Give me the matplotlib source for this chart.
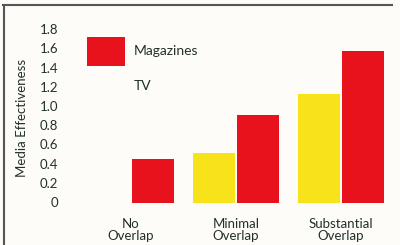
import numpy as np
import matplotlib
matplotlib.use('Agg')
import matplotlib.pyplot as plt
import matplotlib.transforms as mtransforms
from matplotlib.patches import Patch
from matplotlib.lines import Line2D

# Media effectiveness by audience overlap
categories = ['No\nOverlap', 'Minimal\nOverlap', 'Substantial\nOverlap']
tv = [0.0, 0.52, 1.14]
magazines = [0.46, 0.92, 1.58]
yticks = [0, 0.2, 0.4, 0.6, 0.8, 1.0, 1.2, 1.4, 1.6, 1.8]
ytick_labels = ['0', '0.2', '0.4', '0.6', '0.8', '1.0', '1.2', '1.4', '1.6', '1.8']

red = '#e8121c'
yellow = '#f8e21a'
txt = '#23302a'
bg = '#fdfcf8'

plt.rcParams['font.family'] = ['Lato', 'DejaVu Sans']

fig = plt.figure(figsize=(4.0, 2.45), dpi=100, facecolor=bg)
ax = fig.add_axes([0.0, 0.0, 1.0, 1.0])
ax.set_facecolor(bg)

# pixel layout: group centres at x=131,236,341 ; 0 at y=203, 1.8 at y=30
x = np.arange(len(categories))
w = 0.4
ax.bar(x - w / 2 - 0.01, tv, w, color=yellow)
ax.bar(x + w / 2 + 0.01, magazines, w, color=red)

ppx = 105.0   # pixels per category
ppy = 96.0    # pixels per unit
ax.set_xlim(-131 / ppx, (400 - 131) / ppx)
ax.set_ylim(-(245 - 203) / ppy, 203 / ppy)

# y tick labels, no axis line
trans = mtransforms.blended_transform_factory(fig.transFigure, ax.transData)
for v, lab in zip(yticks, ytick_labels):
    ax.text(58 / 400, v, lab, transform=trans, ha='right', va='center',
            fontsize=9.5, color=txt)

for xi, lab in zip(x, categories):
    ax.text(xi, -0.16, lab, ha='center', va='top', fontsize=9.5, color=txt,
            linespacing=1.0)

ax.text(22 / 400, 1 - 118 / 245, 'Media Effectiveness', transform=fig.transFigure,
        rotation=90, ha='center', va='center', fontsize=9.5, color=txt)

handles = [Patch(facecolor=red, edgecolor='none'),
           Patch(facecolor='none', edgecolor='none')]
leg = ax.legend(handles, ['Magazines', 'TV'], loc='upper left',
                bbox_to_anchor=(87 / 400, 1 - 37 / 245), frameon=False,
                borderpad=0, borderaxespad=0,
                fontsize=10, handlelength=2.7, handleheight=2.8,
                labelspacing=0.45, handletextpad=0.65, labelcolor=txt)

ax.axis('off')

# scan border (top and left edges)
fig.add_artist(Line2D([3 / 400, 392 / 400], [1 - 5.5 / 245, 1 - 5.5 / 245],
                      color='#555555', lw=1.5, transform=fig.transFigure))
fig.add_artist(Line2D([3.5 / 400, 3.5 / 400], [0, 1 - 5.5 / 245],
                      color='#555555', lw=1.5, transform=fig.transFigure))

fig.savefig('out.png', dpi=100, facecolor=bg)
